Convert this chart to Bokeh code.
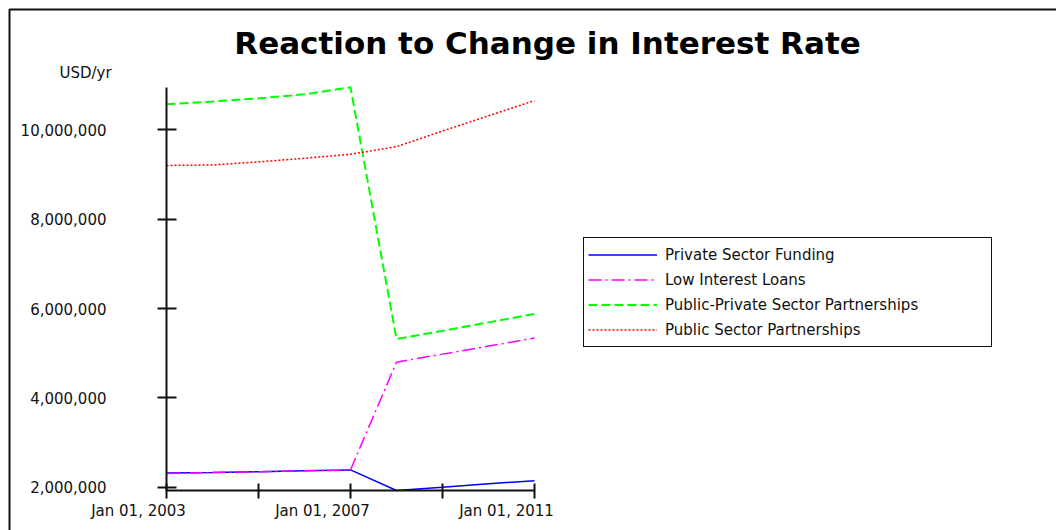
from bokeh.plotting import figure
from bokeh.models import (Range1d, FixedTicker, NumeralTickFormatter, Legend,
                          LegendItem, Label, BoxAnnotation)
from bokeh.core.properties import value
from bokeh.embed import file_html
from bokeh.resources import INLINE

# ---- data ----
years = [2003, 2004, 2005, 2006, 2007, 2008, 2009, 2010, 2011]
private_sector = [2320000, 2330000, 2350000, 2370000, 2390000, 1930000, 2000000, 2080000, 2150000]
low_interest = [2310000, 2330000, 2350000, 2370000, 2390000, 4800000, 4980000, 5160000, 5340000]
public_private = [10570000, 10630000, 10700000, 10790000, 10950000, 5320000, 5500000, 5690000, 5880000]
public_sector = [9200000, 9210000, 9280000, 9360000, 9450000, 9620000, 9970000, 10310000, 10650000]

series_names = ["Private Sector Funding", "Low Interest Loans",
                "Public-Private Sector Partnerships", "Public Sector Partnerships"]
x_tick_years = [2003, 2005, 2007, 2009, 2011]
x_label_years = [2003, 2007, 2011]
x_label_texts = ["Jan 01, 2003", "Jan 01, 2007", "Jan 01, 2011"]
y_ticks = [2000000, 4000000, 6000000, 8000000, 10000000]

FONT = "DejaVu Sans"

# ---- layout (pixels) ----
W, H = 1056, 530
AX_LEFT, AX_RIGHT = 166, 534      # x pixel of first / last year
AX_TOP, AX_BOTTOM = 86.7, 490     # y pixel of max / min value

all_vals = private_sector + low_interest + public_private + public_sector
vmin, vmax = min(all_vals), max(all_vals)
x0, x1 = years[0], years[-1]
px_per_x = (AX_RIGHT - AX_LEFT) / (x1 - x0)
px_per_y = (AX_BOTTOM - AX_TOP) / (vmax - vmin)

x_range = Range1d(x0 - AX_LEFT / px_per_x, x1 + (W - AX_RIGHT) / px_per_x)
y_range = Range1d(vmin - (H - AX_BOTTOM) / px_per_y, vmax + AX_TOP / px_per_y)

p = figure(width=W, height=H, output_backend="svg", toolbar_location=None,
           title=None, x_range=x_range, y_range=y_range,
           min_border=0, background_fill_color="white", border_fill_color="white",
           outline_line_color=None)
p.grid.visible = False

# axes fixed at the data extents
xa = p.xaxis[0]
xa.fixed_location = vmin
xa.bounds = (x0, x1)
xa.ticker = FixedTicker(ticks=x_tick_years)
xa.major_label_overrides = {t: "" for t in x_tick_years}
xa.axis_line_width = 2
xa.axis_line_color = "#111"
xa.major_tick_line_width = 2
xa.major_tick_line_color = "#111"
xa.major_tick_in = 7
xa.major_tick_out = 8
xa.minor_tick_line_color = None

ya = p.yaxis[0]
ya.fixed_location = x0
ya.bounds = (vmin, vmax)
ya.ticker = FixedTicker(ticks=y_ticks)
ya.formatter = NumeralTickFormatter(format="0,0")
ya.major_label_text_font = FONT
ya.major_label_text_font_size = "15px"
ya.major_label_text_color = "#111"
ya.major_label_standoff = 51
ya.axis_line_width = 2
ya.axis_line_color = "#111"
ya.major_tick_line_width = 2
ya.major_tick_line_color = "#111"
ya.major_tick_in = 10
ya.major_tick_out = 9
ya.minor_tick_line_color = None

# outer frame (top and left edges visible, right/bottom run off the page)
p.add_layout(BoxAnnotation(left=x_range.start + 9 / px_per_x,
                           right=x_range.end + 50 / px_per_x,
                           top=y_range.end - 9 / px_per_y,
                           bottom=y_range.start - 50 / px_per_y,
                           fill_alpha=0, line_color="#111", line_alpha=1.0,
                           line_width=2))

# lines
r1 = p.line(years, private_sector, line_color="#0000ff", line_width=1.5)
r2 = p.line(years, low_interest, line_color="#ff00ff", line_width=1.5, line_dash="13 4 2 4")
r3 = p.line(years, public_private, line_color="#00ff00", line_width=2, line_dash="9 4")
r4 = p.line(years, public_sector, line_color="#ff0000", line_width=1.5, line_dash="2 2")

# x tick labels (sit left of their ticks, as in the reference)
p.text(x=x_label_years, y=[vmin] * len(x_label_years), text=x_label_texts,
       x_offset=-28, y_offset=20, text_align="center", text_baseline="middle",
       text_font=value(FONT), text_font_size="15px", text_color="#111")

legend = Legend(items=[LegendItem(label=n, renderers=[r]) for n, r in
                       zip(series_names, [r1, r2, r3, r4])],
                location=(583, 183), margin=0, padding=4, spacing=0,
                glyph_width=69, glyph_height=25, label_height=25, label_width=322,
                label_standoff=8, label_text_font=FONT, label_text_font_size="15px",
                label_text_color="#111",
                border_line_color="#111", border_line_alpha=1.0, border_line_width=1.5,
                background_fill_color="white", background_fill_alpha=1.0)
p.add_layout(legend, "center")

# title and unit label
p.add_layout(Label(x=547, y=488, x_units="screen", y_units="screen",
                   text="Reaction to Change in Interest Rate", text_align="center",
                   text_baseline="alphabetic", text_font=FONT, text_font_size="31px",
                   text_font_style="bold", text_color="#000"))
p.add_layout(Label(x=85, y=457.5, x_units="screen", y_units="screen", text="USD/yr",
                   text_align="center", text_baseline="middle", text_font=FONT,
                   text_font_size="15px", text_color="#111"))

open("out.html", "w").write(file_html(p, INLINE))
